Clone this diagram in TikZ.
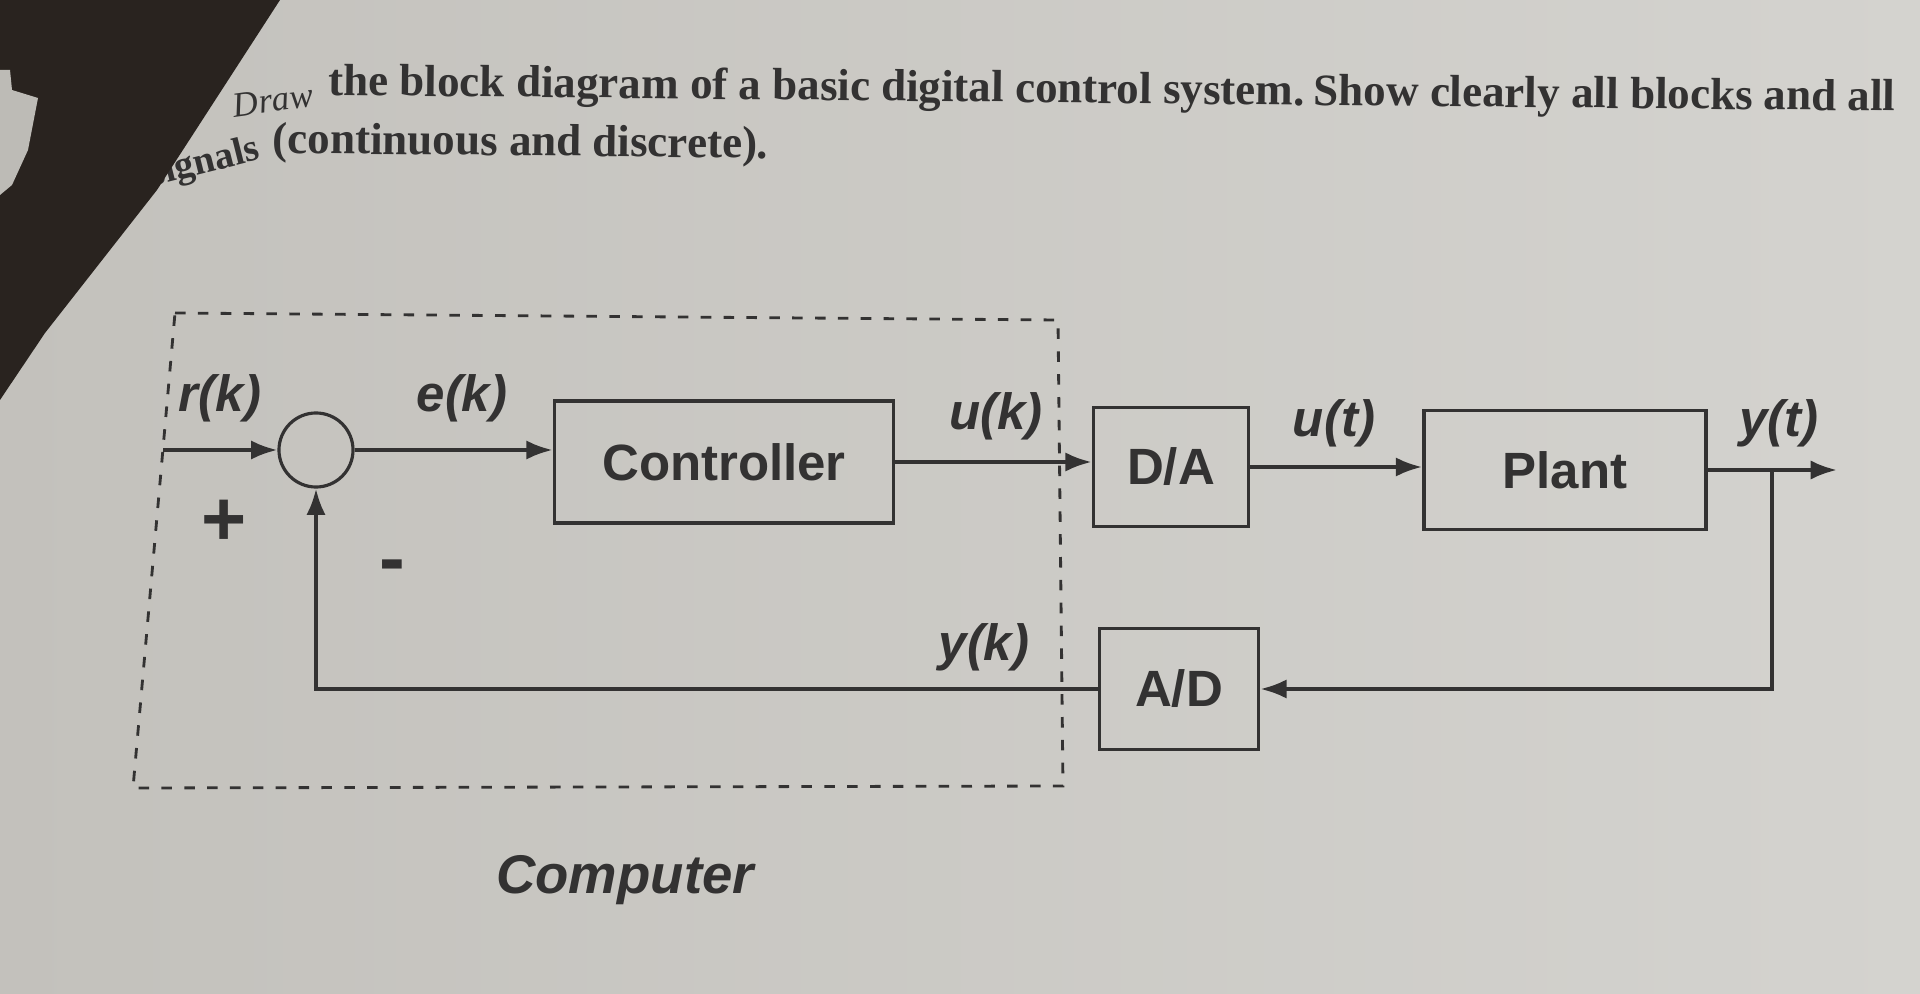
\documentclass[tikz,border=0pt]{standalone}
\usepackage{fontspec}
\setmainfont{Liberation Serif}
\setsansfont{Liberation Sans}
\usetikzlibrary{arrows.meta}

\definecolor{cartascura}{HTML}{C3C1BC}
\definecolor{cartachiara}{HTML}{D4D3CF}
\definecolor{ombra}{HTML}{29231F}
\definecolor{foglio}{HTML}{BDBBB6}
\definecolor{inchiostro}{HTML}{333232}

\tikzset{
  titolo/.style={inner sep=0pt, text=inchiostro, font=\bfseries\fontsize{12.8}{15}\selectfont},
  blocco/.style={draw=inchiostro, line width=1pt, inner sep=0pt, text=inchiostro,
    font=\sffamily\bfseries\fontsize{14.5}{17}\selectfont},
  somma/.style={circle, draw=inchiostro, line width=0.9pt, minimum size=0.74cm, inner sep=0pt},
  segnale/.style={inner sep=0pt, text=inchiostro, font=\sffamily\bfseries\itshape\fontsize{14.5}{17}\selectfont},
  segno/.style={inner sep=0pt, text=inchiostro, font=\sffamily\bfseries\fontsize{22}{24}\selectfont},
  freccia/.style={draw=inchiostro, line width=1.1pt, -{Latex[length=7.5pt,width=5.5pt]}},
  tratteggio/.style={draw=inchiostro, line width=0.8pt, dash pattern=on 3pt off 3.5pt}
}

\begin{document}
\begin{tikzpicture}[x=0.01cm, y=-0.01cm]

% sfondo
\useasboundingbox (0,0) rectangle (1920,994);
\shade[left color=cartascura, right color=cartachiara] (0,0) rectangle (1920,994);

% testo della domanda
\node[titolo, anchor=base east, rotate=8, font=\itshape\fontsize{10}{12}\selectfont] (draw) at (315,106) {Draw};
\node[titolo, anchor=base west, rotate=-0.6] (riga1a) at (328,95) {the block diagram of a basic digital control system.};
\node[titolo, anchor=base west, rotate=-0.6] (riga1b) at (1313,105) {Show clearly all blocks and all};
\node[titolo, anchor=base east, rotate=14, font=\bfseries\fontsize{11}{13}\selectfont] (riga2a) at (262,159) {signals};
\node[titolo, anchor=base west, rotate=-0.6] (riga2b) at (272,153) {(continuous and discrete).};

% ombra
\fill[ombra] (0,0) -- (280,0) -- (157,190) -- (45,333) -- (0,400) -- cycle;
\fill[foglio] (0,70) -- (10,70) -- (12,90) -- (38,98) -- (28,150) -- (12,185) -- (0,195) -- cycle;

% computer
\coordinate (c1) at (175,313);
\coordinate (c2) at (1058,320);
\coordinate (c3) at (1063,786);
\coordinate (c4) at (133,788);
\draw[tratteggio] (c1) -- (c2) -- (c3) -- (c4) -- cycle;

% blocchi
\node[somma] (sum) at (316,450) {};
\node[blocco, minimum width=3.39cm, minimum height=1.22cm] (ctrl) at (724,462) {Controller};
\node[blocco, minimum width=1.55cm, minimum height=1.19cm] (da) at (1171,467) {D/A};
\node[blocco, minimum width=2.82cm, minimum height=1.19cm] (plant) at (1565,470) {Plant};
\node[blocco, minimum width=1.59cm, minimum height=1.21cm] (ad) at (1179,689) {A/D};

% segnali
\coordinate (rin) at (163,450);
\coordinate (yout) at (1837,470);
\coordinate (ramo) at (1772,470);

\draw[freccia] (rin) -- (sum);
\draw[freccia] (sum) -- (sum -| ctrl.west);
\draw[freccia] (ctrl) -- (ctrl -| da.west);
\draw[freccia] (da) -- (da -| plant.west);
\draw[freccia] (plant) -- (yout);
\draw[freccia] (ramo) |- (ad);
\draw[freccia] (ad) -| (sum);

% etichette
\node[segnale] (lr) at (220,398) {r(k)};
\node[segnale] (le) at (462,398) {e(k)};
\node[segnale] (luk) at (996,416) {u(k)};
\node[segnale] (lut) at (1334,423) {u(t)};
\node[segnale] (lyt) at (1779,423) {y(t)};
\node[segnale] (lyk) at (984,647) {y(k)};
\node[segno] (lpiu) at (224,523) {+};
\node[segno] (lmeno) at (392,572) {-};
\node[segnale, font=\sffamily\bfseries\itshape\fontsize{15.5}{18}\selectfont] (lcomp) at (625,880) {Computer};

\end{tikzpicture}
\end{document}
